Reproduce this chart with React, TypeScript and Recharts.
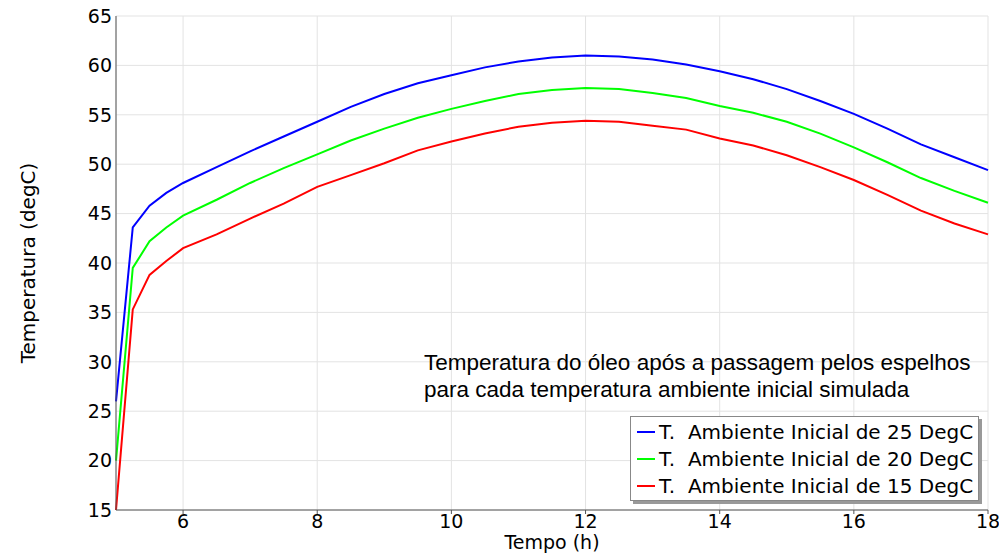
import { CartesianGrid, Label, Legend, Line, LineChart, XAxis, YAxis } from "recharts";

const hours = [5, 5.25, 5.5, 5.75, 6, 6.5, 7, 7.5, 8, 8.5, 9, 9.5, 10, 10.5, 11, 11.5, 12, 12.5, 13, 13.5, 14, 14.5, 15, 15.5, 16, 16.5, 17, 17.5, 18];
const amb25 = [26, 43.6, 45.8, 47.1, 48.1, 49.7, 51.3, 52.8, 54.3, 55.8, 57.1, 58.2, 59.0, 59.8, 60.4, 60.8, 61.0, 60.9, 60.6, 60.1, 59.4, 58.6, 57.6, 56.4, 55.1, 53.6, 52.0, 50.7, 49.4];
const amb20 = [20, 39.5, 42.2, 43.6, 44.8, 46.4, 48.1, 49.6, 51.0, 52.4, 53.6, 54.7, 55.6, 56.4, 57.1, 57.5, 57.7, 57.6, 57.2, 56.7, 55.9, 55.2, 54.3, 53.1, 51.7, 50.2, 48.6, 47.3, 46.1];
const amb15 = [15, 35.3, 38.8, 40.2, 41.5, 42.9, 44.5, 46.0, 47.7, 48.9, 50.1, 51.4, 52.3, 53.1, 53.8, 54.2, 54.4, 54.3, 53.9, 53.5, 52.6, 51.9, 50.9, 49.7, 48.4, 46.9, 45.3, 44.0, 42.9];

const xTicks = [6, 8, 10, 12, 14, 16, 18];
const yTicks = [15, 20, 25, 30, 35, 40, 45, 50, 55, 60, 65];

const series = [
  { key: "amb25", name: "T.  Ambiente Inicial de 25 DegC", color: "#0000ff" },
  { key: "amb20", name: "T.  Ambiente Inicial de 20 DegC", color: "#00ff00" },
  { key: "amb15", name: "T.  Ambiente Inicial de 15 DegC", color: "#ff0000" },
];

const rows = hours.map((t, i) => ({ t, amb25: amb25[i], amb20: amb20[i], amb15: amb15[i] }));

const FONT = "'DejaVu Sans', sans-serif";
const AXIS = "#555";

function LegendBox() {
  return (
    <div
      style={{
        width: 347,
        height: 82,
        border: "1px solid #888",
        boxShadow: "3px 3px 0 #999",
        background: "#fff",
        fontFamily: FONT,
        fontSize: 20,
        color: "#000",
        boxSizing: "content-box",
        paddingTop: 1,
      }}
    >
      {series.map((s) => (
        <div key={s.key} style={{ display: "flex", alignItems: "center", height: 27, paddingLeft: 6 }}>
          <div style={{ width: 18, height: 2, background: s.color, marginRight: 4 }} />
          <span style={{ whiteSpace: "pre" }}>{s.name}</span>
        </div>
      ))}
    </div>
  );
}

export default function App() {
  return (
    <div style={{ position: "absolute", left: 0, top: 0, width: 999, height: 553, background: "#fff" }}>
      <LineChart width={999} height={553} data={rows} margin={{ top: 16, right: 11, bottom: 0, left: 56 }}>
        <CartesianGrid stroke="#e3e3e3" strokeWidth={1} ticks={yTicks} />
        <XAxis
          dataKey="t"
          type="number"
          domain={[5, 18]}
          ticks={xTicks}
          height={43}
          stroke={AXIS}
          tickSize={4}
          tick={{ fill: "#000", fontSize: 19, fontFamily: FONT }}
          tickMargin={1}
        >
          <Label value="Tempo (h)" position="insideBottom" offset={4} style={{ fill: "#000", fontSize: 19, fontFamily: FONT }} />
        </XAxis>
        <XAxis
          xAxisId="top"
          dataKey="t"
          type="number"
          orientation="top"
          domain={[5, 18]}
          ticks={xTicks}
          height={0}
          mirror
          tick={false}
          tickSize={5}
          stroke={AXIS}
        />
        <YAxis
          type="number"
          domain={[15, 65]}
          ticks={yTicks}
          width={60}
          stroke={AXIS}
          tickSize={0}
          tickMargin={4}
          tick={{ fill: "#000", fontSize: 19, fontFamily: FONT }}
        >
          <Label
            value="Temperatura (degC)"
            angle={-90}
            position="insideLeft"
            offset={-28}
            style={{ fill: "#000", fontSize: 20, fontFamily: FONT, textAnchor: "middle" }}
          />
        </YAxis>
        <YAxis
          yAxisId="right"
          type="number"
          orientation="right"
          domain={[15, 65]}
          ticks={yTicks}
          width={0}
          mirror
          tick={false}
          tickSize={5}
          stroke={AXIS}
        />
        {series.map((s) => (
          <Line
            key={s.key}
            dataKey={s.key}
            name={s.name}
            stroke={s.color}
            strokeWidth={2}
            dot={false}
            type="linear"
            isAnimationActive={false}
          />
        ))}
        <Legend
          layout="vertical"
          align="center"
          verticalAlign="middle"
          wrapperStyle={{ left: 630, top: 416, width: "auto" }}
          content={() => <LegendBox />}
        />
      </LineChart>
      <div
        style={{
          position: "absolute",
          left: 424,
          top: 349,
          fontFamily: "'Liberation Sans', Arial, sans-serif",
          fontSize: 22.5,
          lineHeight: "27px",
          color: "#000",
          whiteSpace: "nowrap",
        }}
      >
        Temperatura do óleo após a passagem pelos espelhos
        <br />
        para cada temperatura ambiente inicial simulada
      </div>
    </div>
  );
}
